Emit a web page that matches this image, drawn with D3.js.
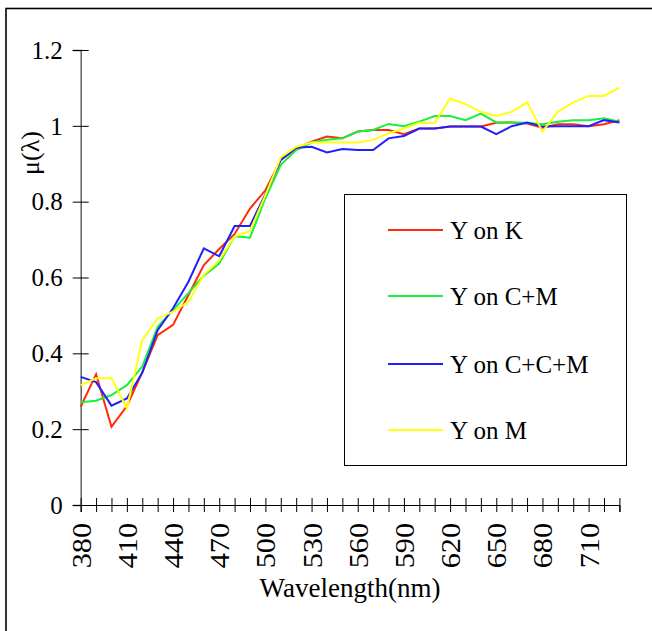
<!DOCTYPE html>
<html>
<head>
<meta charset="utf-8">
<script src="https://cdn.jsdelivr.net/npm/d3@7"></script>
<style>
  body { margin: 0; background: #fff; }
  svg { display: block; font-family: "Liberation Serif", "Times New Roman", serif; }
</style>
</head>
<body>
<div class="container"></div>
<script>
const wavelengths = d3.range(380, 731, 10);

const yOnK = [0.259, 0.345, 0.206, 0.261, 0.35, 0.448, 0.475, 0.554, 0.633, 0.675,
  0.715, 0.782, 0.83, 0.91, 0.94, 0.958, 0.972, 0.967, 0.985, 0.989,
  0.989, 0.978, 0.993, 0.993, 0.998, 0.998, 0.998, 1.008, 1.009, 1.006,
  0.995, 1.004, 1.004, 0.999, 1.004, 1.015];

const yOnCM = [0.271, 0.275, 0.29, 0.316, 0.365, 0.47, 0.514, 0.559, 0.605, 0.637,
  0.709, 0.705, 0.809, 0.897, 0.936, 0.956, 0.963, 0.967, 0.985, 0.989,
  1.005, 0.999, 1.011, 1.026, 1.026, 1.015, 1.032, 1.009, 1.009, 1.008,
  1.004, 1.011, 1.015, 1.015, 1.02, 1.011];

const yOnCCM = [0.338, 0.324, 0.262, 0.281, 0.349, 0.461, 0.519, 0.589, 0.677, 0.656,
  0.736, 0.736, 0.82, 0.91, 0.942, 0.945, 0.93, 0.939, 0.936, 0.936,
  0.967, 0.973, 0.993, 0.993, 0.998, 0.998, 0.998, 0.978, 0.999, 1.009,
  0.998, 0.999, 0.999, 0.999, 1.015, 1.009];

const yOnM = [0.316, 0.334, 0.334, 0.255, 0.435, 0.492, 0.51, 0.536, 0.607, 0.645,
  0.708, 0.723, 0.817, 0.917, 0.945, 0.956, 0.956, 0.956, 0.956, 0.963,
  0.98, 0.993, 1.008, 1.008, 1.072, 1.057, 1.037, 1.026, 1.037, 1.062,
  0.985, 1.037, 1.062, 1.079, 1.079, 1.101];

const seriesNames = ["Y on K", "Y on C+M", "Y on C+C+M", "Y on M"];
const seriesColors = ["#ff2a0a", "#17f03c", "#2020ff", "#ffff10"];
const yTicks = [0, 0.2, 0.4, 0.6, 0.8, 1, 1.2];

const series = [yOnK, yOnCM, yOnCCM, yOnM].map((values, i) => ({
  name: seriesNames[i],
  color: seriesColors[i],
  points: values.map((v, j) => ({ w: wavelengths[j], v }))
}));

const width = 652;
const height = 631;

const svg = d3.select(".container")
  .append("svg")
  .attr("width", width)
  .attr("height", height);

// outer frame (runs off the right and bottom edges)
svg.append("rect")
  .attr("x", 6)
  .attr("y", 8.5)
  .attr("width", 800)
  .attr("height", 800)
  .attr("fill", "#fff")
  .attr("stroke", "#000")
  .attr("stroke-width", 1.6);

const x = d3.scaleLinear().domain([380, 730]).range([80.7, 619.4]);
const y = d3.scaleLinear().domain([0, 1.2]).range([505, 50]);

// y axis
const yAxis = svg.append("g")
  .attr("transform", `translate(${x(380)},0)`)
  .call(d3.axisLeft(y).tickValues(yTicks).tickSize(8).tickFormat(d3.format("")));
yAxis.select(".domain").attr("stroke", "#555").attr("stroke-width", 1.4);
yAxis.selectAll(".tick line").attr("x1", -8).attr("x2", 8).attr("stroke", "#000");
yAxis.selectAll(".tick text")
  .attr("x", -18)
  .attr("font-family", "Liberation Serif")
  .attr("font-size", 25)
  .attr("fill", "#000")
  .attr("dy", "0.33em");

// x axis
const xAxis = svg.append("g")
  .attr("transform", `translate(0,${y(0)})`)
  .call(d3.axisBottom(x).tickValues(wavelengths).tickSize(7)
    .tickFormat(d => (d - 380) % 30 === 0 && d <= 710 ? d : ""));
xAxis.select(".domain").attr("stroke", "#000").attr("stroke-width", 1.2);
xAxis.selectAll(".tick line").attr("y1", -7).attr("y2", 7).attr("stroke", "#000");
xAxis.selectAll(".tick text")
  .attr("font-family", "Liberation Serif")
  .attr("font-size", 27)
  .attr("fill", "#000")
  .attr("text-anchor", "end")
  .attr("transform", "rotate(-90) scale(1.12,1)")
  .attr("x", -16)
  .attr("y", 0)
  .attr("dy", "0.35em");

// series lines
const line = d3.line().x(d => x(d.w)).y(d => y(d.v));
svg.append("g")
  .selectAll("path")
  .data(series)
  .join("path")
  .attr("d", d => line(d.points))
  .attr("fill", "none")
  .attr("stroke", d => d.color)
  .attr("stroke-width", 2)
  .attr("stroke-linejoin", "miter");

// axis titles
svg.append("text")
  .attr("x", 350)
  .attr("y", 597)
  .attr("text-anchor", "middle")
  .attr("font-size", 27)
  .text("Wavelength(nm)");

const yTitle = svg.append("g").attr("transform", "translate(30,153) rotate(-90)");
yTitle.append("rect")
  .attr("x", -30).attr("y", -16).attr("width", 60).attr("height", 30)
  .attr("fill", "#fff");
yTitle.append("text")
  .attr("text-anchor", "middle")
  .attr("dy", "0.35em")
  .attr("font-size", 26)
  .text("μ(λ)");

// legend
const legend = svg.append("g");
legend.append("rect")
  .attr("x", 344.5)
  .attr("y", 194.5)
  .attr("width", 282)
  .attr("height", 271)
  .attr("fill", "#fff")
  .attr("stroke", "#000")
  .attr("stroke-width", 1);

const legendRows = [230, 296, 364, 430];
series.forEach((s, i) => {
  legend.append("line")
    .attr("x1", 388).attr("x2", 443)
    .attr("y1", legendRows[i]).attr("y2", legendRows[i])
    .attr("stroke", s.color)
    .attr("stroke-width", 2);
  legend.append("text")
    .attr("x", 450)
    .attr("y", legendRows[i])
    .attr("dy", "0.35em")
    .attr("font-size", 25)
    .text(s.name);
});
</script>
</body>
</html>
